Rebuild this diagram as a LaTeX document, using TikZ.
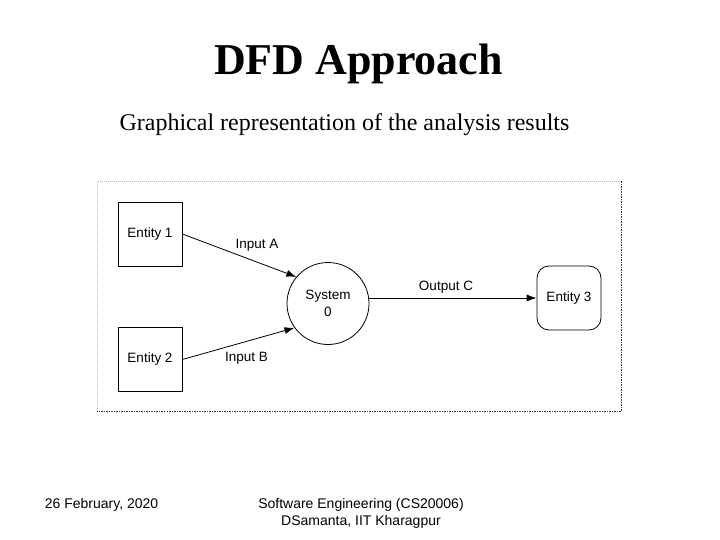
\documentclass[tikz,border=0pt]{standalone}
\usepackage{fontspec}
\setmainfont{Liberation Serif}
\newfontfamily\arialfont{Liberation Sans}
\usetikzlibrary{arrows.meta}
\begin{document}
\begin{tikzpicture}[x=1pt,y=-1pt,
  lbl/.style={font=\arialfont\fontsize{13.5}{16}\selectfont, inner sep=0pt},
  entbox/.style={draw, line width=0.8pt, minimum width=64pt, minimum height=64pt, inner sep=0pt, font=\arialfont\fontsize{13.5}{16}\selectfont},
  flow/.style={line width=0.8pt, -{Latex[length=10pt,width=7pt]}},
  foot/.style={font=\arialfont\fontsize{14}{17}\selectfont, inner sep=0pt, align=center},
  framelight/.style={gray!55, line width=0.9pt, dash pattern=on 1pt off 1pt},
  framedark/.style={black!80, line width=0.9pt, dash pattern=on 1.5pt off 1pt}]
\useasboundingbox (0,0) rectangle (720,540);
\node[anchor=base, inner sep=0pt, font=\bfseries\fontsize{44}{50}\selectfont] (title) at (358.5,75) {DFD Approach};
\node[anchor=base, inner sep=0pt, font=\fontsize{24}{28}\selectfont] (sub) at (344.5,131) {Graphical representation of the analysis results};
\coordinate (fnw) at (97,181.5);
\coordinate (fse) at (621,411);
\draw[framelight] (fnw |- fse) -- (fnw) -- (fse |- fnw);
\draw[framedark] (fse |- fnw) -- (fse) -- (fnw |- fse);
\node[entbox] (e1) at (150,234) {Entity 1};
\node[entbox] (e2) at (150,359.5) {Entity 2};
\node[entbox, circle, minimum size=82pt, align=center, font=\arialfont\fontsize{13.5}{16.5}\selectfont] (sys) at (328,303.5) {System\\0};
\node[entbox, rounded corners=12pt] (e3) at (569,298) {Entity 3};
\draw[flow] (e1.east) -- (sys.140);
\draw[flow] (e2.east) -- (sys.216);
\draw[flow] (sys.east |- e3.west) -- (e3.west);
\node[lbl] (la) at (257,245) {Input A};
\node[lbl] (lb) at (246.5,358) {Input B};
\node[lbl] (lc) at (446,287) {Output C};
\node[foot, anchor=base] (date) at (101.5,508.5) {26 February, 2020};
\node[foot, anchor=base] (course) at (361,508.5) {Software Engineering (CS20006)};
\node[foot, anchor=base] (author) at (361,525.5) {DSamanta, IIT Kharagpur};
\end{tikzpicture}
\end{document}
